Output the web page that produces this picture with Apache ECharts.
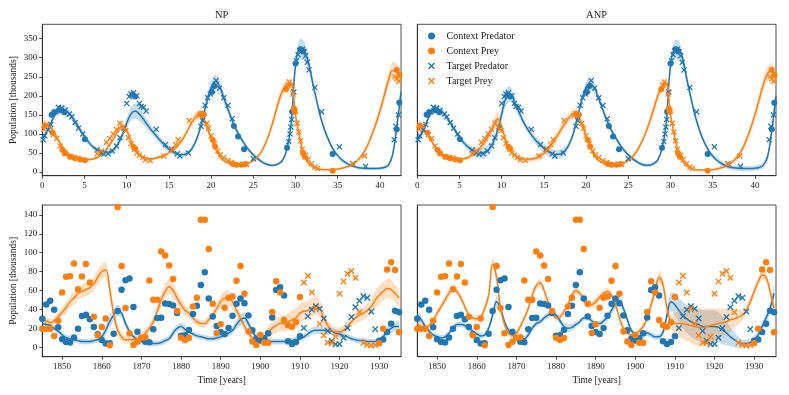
<!DOCTYPE html>
<html>
<head>
<meta charset="utf-8">
<script src="https://cdn.jsdelivr.net/npm/echarts@6/dist/echarts.min.js"></script>
<style>
  html, body { margin: 0; padding: 0; background: #fff; }
  #chart { width: 789px; height: 395px; }
</style>
</head>
<body>
<div id="chart"></div>
<script>
// ---------- top row: simulated Lotka-Volterra, predictions every 0.5 time units from 0 to 42.5
const simStep = 0.5;

const npPredMean = [88,105,128,150,163,165,158,145,128,110, 93,78,66,58,53,51,53,60,75,98,
  128,152,160,152,138,122,108,95,82,70, 60,52,47,45,47,55,72,100,140,185,
  222,238,225,195,165,135,110,90,72,57, 45,35,27,21,18,18,22,32,62,130,
  280,322,318,290,238,188,142,107,80,58, 43,32,24,18,14,11,10,9,9,9, 10,12,18,45,120,210];
const npPreyMean = [127,127,118,100,80,63,50,42,38,36, 34,33,34,38,46,57,72,90,110,121,
  110,82,60,46,38,35,35,37,40,44, 50,58,68,82,100,122,140,150,145,118,
  90,62,42,30,24,21,20,20,21,24, 30,40,55,78,108,145,185,215,228,228,
  150,90,45,24,14,9,7,6,6,7, 8,10,13,17,24,34,48,68,95,125, 160,200,240,266,265,242];
const npPredBand = [8,8,8,9,10,10,10,9,9,8, 8,8,7,7,7,7,7,7,8,10,
  14,18,20,18,15,13,11,10,9,8, 7,7,6,6,6,6,7,9,12,14,
  16,17,16,14,12,10,9,8,7,6, 5,5,5,4,4,4,4,5,7,12,
  20,28,26,20,15,12,10,9,8,7, 6,5,5,4,4,4,4,4,4,4, 4,4,5,8,14,20];
const npPreyBand = [10,9,8,7,6,5,5,4,4,4, 4,4,4,4,5,6,7,8,9,10,
  9,8,6,5,5,5,4,4,4,5, 5,6,7,8,9,10,11,12,12,11,
  9,7,5,4,3,3,3,3,3,3, 4,5,6,8,10,12,14,15,15,14,
  12,9,6,4,3,3,3,3,3,3, 3,3,3,4,5,6,7,8,10,12, 14,17,20,22,20,18];

const anpPredMean = [85,100,125,150,163,164,157,143,126,108, 91,77,66,57,51,49,52,60,78,108,
  152,195,205,185,160,135,115,98,84,72, 62,54,48,46,48,56,73,102,145,190,
  222,232,220,192,162,134,110,90,72,57, 45,35,27,21,18,18,22,32,62,130,
  280,320,320,290,237,187,141,106,78,57, 42,31,23,17,13,11,10,9,9,9, 10,12,18,40,110,200];
const anpPreyMean = [126,118,105,88,70,56,46,40,37,35, 34,35,38,44,53,65,80,98,120,140,
  118,82,58,45,38,34,33,34,36,41, 49,60,75,92,110,128,143,153,150,125,
  95,65,42,30,24,20,18,18,20,24, 30,40,55,75,100,130,165,200,225,232,
  150,92,46,26,15,9,6,5,5,5, 6,8,11,15,21,30,42,60,85,115, 150,190,230,258,268,245];
const anpPredBand = [8,8,8,9,10,10,9,8,8,8, 8,8,9,10,12,14,15,14,12,14,
  18,22,20,16,13,11,10,10,10,10, 11,12,12,12,11,10,9,9,10,12,
  14,15,14,12,10,9,8,8,7,7, 6,6,6,5,5,5,5,5,7,12,
  20,26,24,18,14,12,10,9,8,7, 7,7,7,7,7,7,7,7,7,7, 7,7,8,10,14,20];
const anpPreyBand = [8,8,7,6,5,5,4,4,4,4, 4,4,5,6,7,9,11,13,15,18,
  14,10,8,7,7,6,6,7,8,9, 10,11,12,13,13,12,12,12,11,10,
  8,6,5,4,4,4,4,4,4,4, 5,6,7,8,10,12,14,15,15,13,
  10,8,6,4,3,3,3,3,3,3, 3,3,4,4,5,6,7,8,10,12, 14,16,18,20,18,16];

// observed points [time, population]
const simCtxPred = [[1.1,150],[1.4,157],[2.1,162],[2.6,157],[5.05,86],[10.7,203],[11.0,198],
  [19.1,150],[20.1,210],[20.4,226],[22.7,121],[23.2,93],[23.9,60],[29.0,64],[29.6,158],
  [30.0,285],[30.6,322],[30.9,318],[34.4,47],[42.0,112],[42.3,182]];
const simCtxPrey = [[0.3,122],[1.2,103],[2.4,58],[2.7,49],[3.3,40],[3.9,36],[4.5,33],[5.05,31],
  [10.8,66],[11.0,62],[18.8,153],[19.1,150],[20.2,84],[20.5,66],[22.6,21],[23.0,19],[23.6,19],
  [24.1,21],[28.9,217],[29.8,167],[29.9,158],[30.9,49],[31.1,40],[34.4,3],[42.0,268],[42.3,255]];
const simTgtPred = [[0.1,85],[0.3,95],[0.7,110],[1.0,125],[1.6,158],[1.9,170],[2.3,168],[2.7,162],
  [3.2,152],[3.5,145],[3.9,130],[4.3,115],[4.8,100],[6.5,58],[7.0,50],[7.3,47],[7.8,48],[8.3,55],
  [8.8,68],[9.2,90],[9.7,115],[10.0,180],[10.3,198],[10.5,205],[10.8,208],[11.2,200],[11.5,180],
  [11.7,172],[12.0,170],[12.3,160],[13.5,112],[14.6,72],[15.3,60],[16.0,48],[16.3,42],[17.3,50],
  [18.8,120],[19.0,135],[19.3,175],[19.6,195],[19.9,205],[20.2,215],[20.6,240],[21.0,220],
  [21.5,195],[22.0,175],[22.5,140],[25.0,35],[29.2,80],[29.35,100],[29.45,118],[29.55,138],
  [29.8,210],[30.1,292],[30.3,308],[30.5,318],[30.8,322],[31.0,316],[31.2,305],[31.4,288],
  [31.6,268],[32.3,222],[33.1,158],[35.2,66],[36.8,22],[38.3,15],[41.7,85],[41.9,120],[42.2,150]];
const simTgtPrey = [[0.2,112],[0.6,122],[1.3,98],[1.7,88],[2.1,68],[2.7,48],[3.4,40],[3.8,38],
  [4.2,36],[6.5,48],[7.0,55],[7.6,78],[8.0,88],[8.4,100],[8.8,112],[9.2,128],[9.6,118],[9.9,108],
  [10.2,90],[10.5,75],[10.9,60],[11.2,50],[11.5,44],[11.9,38],[12.2,32],[12.8,30],[14.4,42],
  [15.4,60],[15.8,72],[16.1,85],[17.4,135],[18.6,148],[18.9,152],[19.5,128],[19.7,115],[20.0,95],
  [20.4,75],[20.8,55],[21.1,45],[21.5,38],[22.0,30],[22.4,25],[23.3,20],[24.2,20],[29.1,228],
  [29.3,236],[29.5,230],[29.7,205],[29.95,160],[30.2,128],[30.4,105],[30.6,82],[30.8,60],
  [31.2,44],[31.5,33],[31.9,22],[32.3,13],[32.6,9],[36.8,22],[38.2,42],[41.8,250],[42.0,245],[42.2,238]];

// ---------- bottom row: Hudson's Bay hare (prey) and lynx (predator), 1845..1935
const hbStart = 1845;
const hbHare = [19.58,19.6,19.61,11.99,28.04,58.0,74.6,75.09,88.48,61.28, 74.67,88.06,68.51,32.19,12.64,21.49,30.35,2.18,152.65,148.36,
  85.81,41.41,14.75,2.28,5.91,9.95,10.44,70.64,50.12,50.13, 101.25,97.12,86.51,72.17,38.32,10.11,7.74,9.67,43.12,52.21,
  134.85,134.86,103.79,46.1,15.03,24.2,41.65,52.34,53.78,70.4, 85.81,56.69,16.59,6.16,2.3,12.82,4.72,4.73,37.22,69.72,
  57.78,28.68,23.37,21.54,26.34,53.1,68.48,75.58,57.92,40.97, 24.95,12.59,4.97,4.5,11.21,56.6,69.63,77.74,80.53,73.38,
  36.93,4.64,2.54,1.8,2.39,4.23,19.52,82.11,89.76,81.66, 15.76];
const hbLynx = [30.09,45.15,49.15,39.52,21.23,8.42,5.56,5.08,10.17,19.6, 32.91,34.38,29.59,21.3,13.69,7.65,4.08,4.09,14.33,38.22,
  60.78,70.77,72.77,42.68,16.39,9.83,5.8,5.26,18.91,30.95, 31.18,46.34,45.77,44.15,36.33,12.03,12.6,18.34,35.14,43.77,
  65.69,79.35,51.65,32.59,22.45,16.16,14.12,20.38,33.33,46.0, 51.41,46.43,33.68,18.01,8.86,7.13,9.47,14.86,31.47,60.57,
  63.51,54.7,6.3,3.41,5.44,11.65,20.35,32.88,39.55,43.36, 40.83,30.36,17.18,6.82,3.19,3.52,9.94,20.3,31.99,42.36,
  49.08,53.99,52.25,37.7,19.14,6.98,8.31,16.01,24.82,38.66, 36.94];
const hbTargetYears = [1911, 1929];   // inclusive range held out as targets

const npHareMean = [29,28,26,28,32,37,42,48,52,57, 59,61,63,67,74,80,82,62,35,18,
  11,8,8,8,9,11,15,20,27,38, 50,59,64,60,52,45,39,36,31,27,
  25,25,29,34,41,48,52,52,48,39, 31,22,15,10,8,9,11,16,20,23,
  25,25,27,29,31,36,38,39,42,44, 41,31,23,18,16,16,18,22,27,31,
  34,36,39,43,50,55,59,62,61,57, 52];
const npLynxMean = [25,24,23,20,17,13,10,9,8,7, 6,6,6,7,8,11,18,27,34,39,
  36,25,17,11,8,6,5,4,4,4, 5,7,9,15,20,22,19,16,14,12,
  11,10,9,9,10,11,13,15,18,24, 29,31,25,17,11,9,7,7,6,6,
  6,6,6,7,8,9,11,14,17,18, 18,18,17,17,15,14,12,11,9,8,
  7,7,6,6,6,7,11,17,20,22, 22];
const npHareBand = [4,4,4,4,5,5,6,6,7,7, 7,7,7,7,8,8,8,8,7,6,
  5,4,4,4,4,4,5,5,6,7, 7,8,8,8,7,7,6,5,5,4,
  4,4,4,5,6,7,8,8,7,6, 5,4,4,3,3,4,5,6,7,8,
  8,9,9,10,10,10,10,10,10,10, 9,8,6,5,5,5,5,5,6,6,
  7,7,7,8,9,10,10,10,10,9, 9];
const npLynxBand = [3,3,3,3,3,3,3,3,3,3, 3,3,3,3,3,4,5,6,6,6,
  5,4,3,3,3,3,3,3,3,3, 3,3,3,4,4,4,4,3,3,3,
  3,3,3,3,3,3,3,3,4,5, 6,6,5,4,3,3,3,3,3,3,
  3,3,3,3,3,3,3,4,4,4, 4,4,4,4,4,4,3,3,3,3,
  3,3,3,3,3,3,4,4,5,5, 5];

const anpHareMean = [25,22,21,23,28,36,43,50,57,62, 59,52,43,34,31,30,32,41,55,88,
  74,42,24,15,13,15,22,31,41,55, 65,68,60,48,38,31,32,38,45,55,
  60,57,50,45,45,48,53,57,59,55, 45,31,20,15,13,14,17,22,31,45,
  59,74,66,41,27,25,25,25,24,23, 22,21,21,22,23,24,25,26,27,29,
  30,32,34,39,48,59,69,76,74,59, 41];
const anpLynxMean = [34,29,22,17,13,11,10,11,15,20, 24,24,23,20,17,14,12,13,20,34,
  48,41,27,18,13,10,9,9,13,20, 25,27,31,34,36,34,28,22,20,21,
  24,27,31,31,28,25,25,28,32,39, 46,48,41,29,18,13,12,13,15,13,
  11,11,16,34,48,45,39,34,30,27, 25,24,22,22,22,22,21,18,15,11,
  8,5,4,4,5,8,13,22,31,41, 57];
const anpHareBand = [3,3,3,3,3,3,4,4,4,4, 4,4,3,3,3,3,3,4,5,6,
  5,4,3,3,3,3,3,3,4,4, 4,4,4,3,3,3,3,3,4,4,
  4,4,4,4,4,4,4,4,4,4, 4,3,3,3,3,3,3,3,4,5,
  6,7,7,6,8,11,14,16,17,18, 19,20,20,19,18,17,16,15,14,12,
  10,8,6,5,5,5,5,5,5,5, 5];
const anpLynxBand = [4,4,3,3,3,3,3,3,3,3, 3,3,3,3,3,3,3,3,4,5,
  6,5,4,3,3,3,3,3,3,3, 3,3,3,3,3,3,4,4,4,4,
  3,3,3,3,3,3,3,3,4,4, 5,5,4,4,3,3,3,3,3,3,
  3,3,4,7,10,12,13,14,15,16, 17,17,17,17,17,17,16,15,13,10,
  8,6,4,4,4,4,4,4,5,6, 8];

// tick labels
const simTicksX = [0,5,10,15,20,25,30,35,40];
const simTicksY = [0,50,100,150,200,250,300,350];
const hbTicksX = [1850,1860,1870,1880,1890,1900,1910,1920,1930];
const hbTicksY = [0,20,40,60,80,100,120,140];

// ---------- helpers
const FONT = '"Liberation Serif", "DejaVu Serif", serif';
const INK = '#222';
const BLUE = '#1f77b4', ORANGE = '#ff7f0e';
const BLUE_BAND = 'rgba(31,119,180,0.25)', ORANGE_BAND = 'rgba(255,127,14,0.25)';
const CROSS = 'path://M0,1.5L1.5,0L5,3.5L8.5,0L10,1.5L6.5,5L10,8.5L8.5,10L5,6.5L1.5,10L0,8.5L3.5,5Z';

const simT = npPredMean.map((_, i) => i * simStep);
const hbYears = hbHare.map((_, i) => hbStart + i);

function pairs(xs, ys) { return xs.map((x, i) => [x, ys[i]]); }

// shaded mean +/- band, drawn as one polygon through the grid's own coordinate system
function bandSeries(g, xs, mean, half, color) {
  return {
    type: 'custom', xAxisIndex: g, yAxisIndex: g, silent: true, z: 1, clip: true,
    data: [[xs[0], mean[0]]],
    renderItem: function (params, api) {
      const upper = xs.map((x, i) => api.coord([x, mean[i] + half[i]]));
      const lower = xs.map((x, i) => api.coord([x, mean[i] - half[i]])).reverse();
      return {
        type: 'polygon',
        shape: { points: upper.concat(lower), smooth: 0.3 },
        style: { fill: color }
      };
    }
  };
}

function meanSeries(g, xs, mean, color) {
  return {
    type: 'line', xAxisIndex: g, yAxisIndex: g, data: pairs(xs, mean),
    smooth: 0.4, symbol: 'none', lineStyle: { color: color, width: 1.5 }, silent: true, z: 3
  };
}

function dots(g, name, pts, color, symbol, size) {
  return {
    type: 'scatter', name: name, xAxisIndex: g, yAxisIndex: g, data: pts,
    symbol: symbol, symbolSize: size, itemStyle: { color: color, opacity: 1 }, silent: true, z: 4
  };
}

function panel(g, xs, m, ctxPred, ctxPrey, tgtPred, tgtPrey, size) {
  return [
    bandSeries(g, xs, m.pred, m.predBand, BLUE_BAND),
    bandSeries(g, xs, m.prey, m.preyBand, ORANGE_BAND),
    meanSeries(g, xs, m.pred, BLUE),
    meanSeries(g, xs, m.prey, ORANGE),
    dots(g, 'Context Predator', ctxPred, BLUE, 'circle', size),
    dots(g, 'Context Prey', ctxPrey, ORANGE, 'circle', size),
    dots(g, 'Target Predator', tgtPred, BLUE, CROSS, size),
    dots(g, 'Target Prey', tgtPrey, ORANGE, CROSS, size)
  ];
}

function xAxisCfg(g, min, max, ticks, name) {
  return {
    gridIndex: g, type: 'value', min: min, max: max,
    name: name || '', nameLocation: 'middle', nameGap: 19,
    nameTextStyle: { fontFamily: FONT, fontSize: 9.5, color: INK },
    axisLine: { show: true, onZero: false, lineStyle: { color: INK, width: 0.8 } },
    axisTick: { show: true, length: 3, customValues: ticks, lineStyle: { color: INK, width: 0.8 } },
    axisLabel: { customValues: ticks, margin: 5, fontFamily: FONT, fontSize: 9, color: INK,
      formatter: v => String(v) },
    splitLine: { show: false }
  };
}

function yAxisCfg(g, min, max, ticks, labelled, name) {
  return {
    gridIndex: g, type: 'value', min: min, max: max,
    name: name || '', nameLocation: 'middle', nameGap: 24,
    nameTextStyle: { fontFamily: FONT, fontSize: 9.5, color: INK },
    axisLine: { show: true, onZero: false, lineStyle: { color: INK, width: 0.8 } },
    axisTick: { show: labelled, length: 3, customValues: ticks, lineStyle: { color: INK, width: 0.8 } },
    axisLabel: { show: labelled, customValues: ticks, margin: 5, fontFamily: FONT, fontSize: 9, color: INK,
      formatter: v => String(v) },
    splitLine: { show: false }
  };
}

function gridCfg(left, top, width, height) {
  return { left: left, top: top, width: width, height: height, show: true,
    borderColor: INK, borderWidth: 0.8, backgroundColor: 'transparent', outerBoundsMode: 'none' };
}

// split Hudson's Bay data into context and target years
const hbCtxPred = [], hbCtxPrey = [], hbTgtPred = [], hbTgtPrey = [];
hbYears.forEach((y, i) => {
  const isTarget = y >= hbTargetYears[0] && y <= hbTargetYears[1];
  (isTarget ? hbTgtPred : hbCtxPred).push([y, hbLynx[i]]);
  (isTarget ? hbTgtPrey : hbCtxPrey).push([y, hbHare[i]]);
});

const series = [].concat(
  panel(0, simT, { pred: npPredMean, prey: npPreyMean, predBand: npPredBand, preyBand: npPreyBand },
    simCtxPred, simCtxPrey, simTgtPred, simTgtPrey, 6),
  panel(1, simT, { pred: anpPredMean, prey: anpPreyMean, predBand: anpPredBand, preyBand: anpPreyBand },
    simCtxPred, simCtxPrey, simTgtPred, simTgtPrey, 6),
  panel(2, hbYears, { pred: npLynxMean, prey: npHareMean, predBand: npLynxBand, preyBand: npHareBand },
    hbCtxPred, hbCtxPrey, hbTgtPred, hbTgtPrey, 6.5),
  panel(3, hbYears, { pred: anpLynxMean, prey: anpHareMean, predBand: anpLynxBand, preyBand: anpHareBand },
    hbCtxPred, hbCtxPrey, hbTgtPred, hbTgtPrey, 6.5)
);

const chart = echarts.init(document.getElementById('chart'), null, { renderer: 'canvas' });
chart.setOption({
  animation: false,
  backgroundColor: '#fff',
  title: [
    { text: 'NP', left: 221.6, top: 10, padding: 0, textAlign: 'center',
      textStyle: { fontFamily: FONT, fontSize: 10.5, fontWeight: 'normal', color: INK } },
    { text: 'ANP', left: 596.6, top: 10, padding: 0, textAlign: 'center',
      textStyle: { fontFamily: FONT, fontSize: 10.5, fontWeight: 'normal', color: INK } }
  ],
  legend: {
    orient: 'vertical', left: 428, top: 31, padding: 0,
    itemWidth: 20, itemHeight: 7, itemGap: 5, selectedMode: false,
    textStyle: { fontFamily: FONT, fontSize: 10, color: INK, lineHeight: 8 },
    data: [
      { name: 'Context Predator', icon: 'circle' },
      { name: 'Context Prey', icon: 'circle' },
      { name: 'Target Predator', icon: CROSS },
      { name: 'Target Prey', icon: CROSS }
    ]
  },
  grid: [
    gridCfg(42.3, 24.3, 358.7, 151.4),
    gridCfg(417.3, 24.3, 358.7, 151.4),
    gridCfg(42.3, 205, 358.7, 151.7),
    gridCfg(417.3, 205, 358.7, 151.7)
  ],
  xAxis: [
    xAxisCfg(0, 0, 42.5, simTicksX),
    xAxisCfg(1, 0, 42.5, simTicksX),
    xAxisCfg(2, 1845, 1935.5, hbTicksX, 'Time [years]'),
    xAxisCfg(3, 1845, 1935.5, hbTicksX, 'Time [years]')
  ],
  yAxis: [
    yAxisCfg(0, -9.7, 387.8, simTicksY, true, 'Population [thousands]'),
    yAxisCfg(1, -9.7, 387.8, simTicksY, false),
    yAxisCfg(2, -10, 150.4, hbTicksY, true, 'Population [thousands]'),
    yAxisCfg(3, -10, 150.4, hbTicksY, false)
  ],
  series: series
});
</script>
</body>
</html>
